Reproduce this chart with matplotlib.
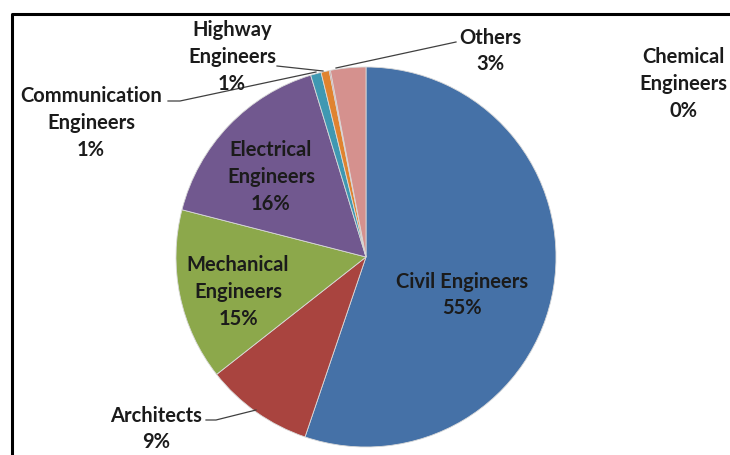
import matplotlib.pyplot as plt

W, H = 730, 455

# slice data (clockwise from 12 o'clock)
labels = [
    "Civil Engineers",
    "Architects",
    "Mechanical\nEngineers",
    "Electrical\nEngineers",
    "Communication\nEngineers",
    "Highway\nEngineers",
    "Chemical\nEngineers",
    "Others",
]
values = [55.2, 9.2, 14.6, 16.3, 0.9, 0.7, 0.1, 3.0]
colors = ["#4571A7", "#A9443F", "#8CA84B", "#71588F", "#3F98B2", "#E0832F", "#C0504D", "#D5918E"]

# label positions in pixels (x, y from top) and optional leader lines
label_pos = [(462, 295), (156, 429), (238, 292), (271, 177), (91, 123), (232, 57), (683, 84), (490, 51)]
leaders = {
    1: [(206, 420), (216, 420), (256, 410)],
    4: [(168, 101), (180, 101), (316, 72)],
    5: [(277, 66), (323, 71)],
    7: [(456, 42), (336, 68)],
}

TEXT_COLOR = "#1b1b1b"
FONT = ["Lato", "DejaVu Sans"]


def px(x, y):
    return x, H - y


fig = plt.figure(figsize=(W / 100, H / 100), dpi=100)
ax = fig.add_axes([0, 0, 1, 1])

ax.pie(
    values,
    colors=colors,
    center=px(366, 257),
    radius=190,
    startangle=90,
    counterclock=False,
    wedgeprops={"edgecolor": "#d9d9d9", "linewidth": 0.6},
)
ax.set_xlim(0, W)
ax.set_ylim(0, H)
ax.set_aspect("equal")
ax.axis("off")

for i, (lab, val) in enumerate(zip(labels, values)):
    x, y = label_pos[i]
    ax.text(
        *px(x, y),
        f"{lab}\n{round(val):d}%",
        ha="center",
        va="center",
        fontsize=14.5,
        fontweight="bold",
        family=FONT,
        color=TEXT_COLOR,
        linespacing=1.42,
    )

for pts in leaders.values():
    xs = [p[0] for p in pts]
    ys = [H - p[1] for p in pts]
    ax.plot(xs, ys, color="#404040", linewidth=0.9)

# outer frame (only left and top edges visible)
ax.plot([12, 12, W], [0, H - 14, H - 14], color="black", linewidth=2.2, clip_on=False)

fig.savefig("out.png", dpi=100)
